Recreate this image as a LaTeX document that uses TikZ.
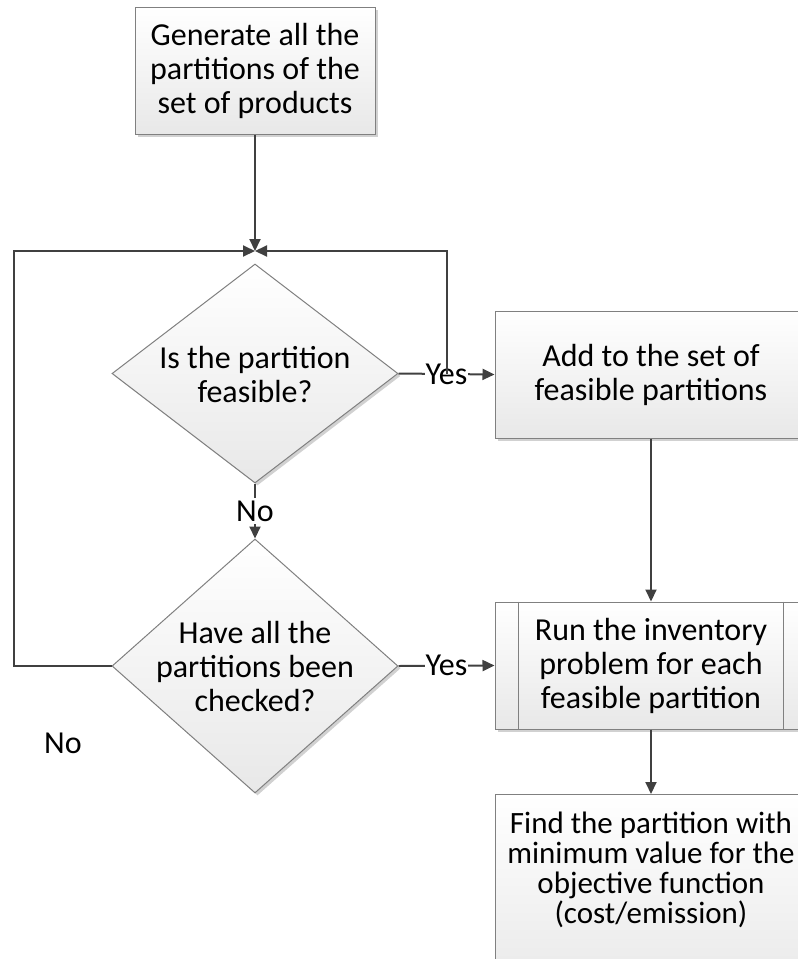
\documentclass[tikz,border=0pt]{standalone}
\usepackage{fontspec}
\setmainfont{Carlito}
\usetikzlibrary{arrows.meta,shapes.geometric,shadows}
\definecolor{conncol}{HTML}{404040}
\definecolor{bordercol}{HTML}{808080}
\begin{document}
\begin{tikzpicture}[x=1pt,y=-1pt,
  conn/.style={draw=conncol, line width=2pt},
  arr/.style={conn, -{Triangle[length=12pt,width=11pt]}},
  shadedfill/.style={draw=bordercol, line width=1pt, top color=white, bottom color=black!9,
     drop shadow={shadow xshift=2.5pt,shadow yshift=-2.5pt,fill=black!40,opacity=0.45}},
  procbox/.style={shadedfill, rectangle, inner sep=0pt, minimum width=312pt, minimum height=127pt},
  txt/.style={font=\fontsize{32}{34}\selectfont, align=center, inner sep=0pt},
  decision/.style={shadedfill, diamond, inner sep=0pt, minimum width=286pt},
  lbl/.style={font=\fontsize{32}{34}\selectfont, inner sep=1pt, fill=white}
]
\useasboundingbox (0,0) rectangle (798,959);
\clip (0,0) rectangle (798,959);

% boxes
\node[procbox, minimum width=240pt, txt] (b1) at (255,70.5)
  {Generate all the\\partitions of the\\set of products};
\node[procbox, txt] (b2) at (651,374.5) {Add to the set of\\feasible partitions};
\node[procbox, txt] (b3) at (651,665.5) {Run the inventory\\problem for each\\feasible partition};
\draw[draw=bordercol, line width=1pt] ([xshift=24pt]b3.north west) -- ([xshift=24pt]b3.south west);
\draw[draw=bordercol, line width=1pt] ([xshift=-24pt]b3.north east) -- ([xshift=-24pt]b3.south east);
\node[procbox, minimum height=200pt, anchor=north] (b4) at (651,794) {};
\node[txt, font=\fontsize{31}{30}\selectfont] (b4t) at (651,870)
  {Find the partition with\\minimum value for the\\objective function\\(cost/emission)};

% decisions
\node[decision, minimum height=219pt] (d1) at (255,373.5) {};
\node[txt] (d1t) at (255,375) {Is the partition\\feasible?};
\node[decision, minimum height=254pt] (d2) at (255,666) {};
\node[txt] (d2t) at (255,666) {Have all the\\partitions been\\checked?};

% junction
\coordinate (j) at (255,251);
\coordinate (c1) at (447,374);

\draw[arr] (b1.south) -- (j);
\draw[arr] (d2.west) -- ++(-98,0) |- (j);
\draw[arr] (d1.east) -- node[lbl]{Yes} (b2.west);
\draw[arr] (c1) |- (j);
\draw[arr] (d1.south) -- node[lbl, inner ysep=3pt]{No} (d2.north);
\draw[arr] (d2.east) -- node[lbl]{Yes} (b3.west);
\draw[arr] (b2.south) -- (b3.north);
\draw[arr] (b3.south) -- (b4.north);

\node[txt] (nolbl) at (63,743) {No};
\end{tikzpicture}
\end{document}
